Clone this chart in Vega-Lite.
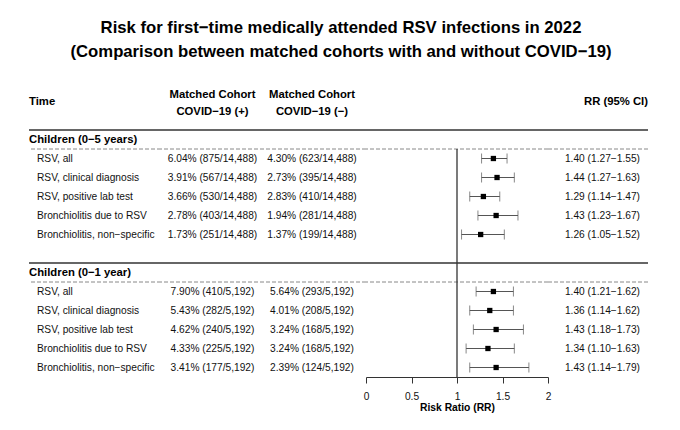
{
  "$schema": "https://vega.github.io/schema/vega-lite/v6.json",
  "padding": {"left": 28, "top": 19, "right": 0, "bottom": 0},
  "background": "white",
  "config": {"view": {"stroke": null}, "font": "Liberation Sans"},
  "title": {
    "text": ["Risk for first−time medically attended RSV infections in 2022", "(Comparison between matched cohorts with and without COVID−19)"],
    "fontSize": 16.7, "fontWeight": "bold", "font": "Liberation Sans", "lineHeight": 24,
    "anchor": "middle", "dx": 2.5, "offset": 12.5, "color": "#000"
  },
  "datasets": {
    "rows": [
      {"row": -3, "type": "header", "label": "Time", "c1": "Matched Cohort\nCOVID−19 (+)", "c2": "Matched Cohort\nCOVID−19 (−)", "rrtext": "RR (95% CI)"},
      {"row": -1, "type": "group", "label": "Children (0−5 years)"},
      {"row": 0, "type": "item", "label": "RSV, all", "c1": "6.04% (875/14,488)", "c2": "4.30% (623/14,488)", "rr": 1.40, "lo": 1.27, "hi": 1.55, "rrtext": "1.40 (1.27−1.55)"},
      {"row": 1, "type": "item", "label": "RSV, clinical diagnosis", "c1": "3.91% (567/14,488)", "c2": "2.73% (395/14,488)", "rr": 1.44, "lo": 1.27, "hi": 1.63, "rrtext": "1.44 (1.27−1.63)"},
      {"row": 2, "type": "item", "label": "RSV, positive lab test", "c1": "3.66% (530/14,488)", "c2": "2.83% (410/14,488)", "rr": 1.29, "lo": 1.14, "hi": 1.47, "rrtext": "1.29 (1.14−1.47)"},
      {"row": 3, "type": "item", "label": "Bronchiolitis due to RSV", "c1": "2.78% (403/14,488)", "c2": "1.94% (281/14,488)", "rr": 1.43, "lo": 1.23, "hi": 1.67, "rrtext": "1.43 (1.23−1.67)"},
      {"row": 4, "type": "item", "label": "Bronchiolitis, non−specific", "c1": "1.73% (251/14,488)", "c2": "1.37% (199/14,488)", "rr": 1.26, "lo": 1.05, "hi": 1.52, "rrtext": "1.26 (1.05−1.52)"},
      {"row": 6, "type": "group", "label": "Children (0−1 year)"},
      {"row": 7, "type": "item", "label": "RSV, all", "c1": "7.90% (410/5,192)", "c2": "5.64% (293/5,192)", "rr": 1.40, "lo": 1.21, "hi": 1.62, "rrtext": "1.40 (1.21−1.62)"},
      {"row": 8, "type": "item", "label": "RSV, clinical diagnosis", "c1": "5.43% (282/5,192)", "c2": "4.01% (208/5,192)", "rr": 1.36, "lo": 1.14, "hi": 1.62, "rrtext": "1.36 (1.14−1.62)"},
      {"row": 9, "type": "item", "label": "RSV, positive lab test", "c1": "4.62% (240/5,192)", "c2": "3.24% (168/5,192)", "rr": 1.43, "lo": 1.18, "hi": 1.73, "rrtext": "1.43 (1.18−1.73)"},
      {"row": 10, "type": "item", "label": "Bronchiolitis due to RSV", "c1": "4.33% (225/5,192)", "c2": "3.24% (168/5,192)", "rr": 1.34, "lo": 1.10, "hi": 1.63, "rrtext": "1.34 (1.10−1.63)"},
      {"row": 11, "type": "item", "label": "Bronchiolitis, non−specific", "c1": "3.41% (177/5,192)", "c2": "2.39% (124/5,192)", "rr": 1.43, "lo": 1.14, "hi": 1.79, "rrtext": "1.43 (1.14−1.79)"}
    ],
    "lines": [
      {"row": -1.5, "kind": "solid"},
      {"row": 5.5, "kind": "solid"},
      {"row": -0.5, "kind": "dashed"},
      {"row": 6.5, "kind": "dashed"}
    ]
  },
  "bounds": "flush",
  "spacing": 0,
  "hconcat": [
    {
      "width": 132, "height": 304,
      "layer": [
        {"data": {"name": "lines"}, "transform": [{"filter": "datum.kind === 'solid'"}], "mark": {"type": "rule", "color": "#666", "strokeWidth": 1.8}, "encoding": {"y": {"field": "row", "type": "quantitative", "scale": {"domain": [-4.5, 11.5], "reverse": true, "nice": false, "zero": false}, "axis": null}}},
        {"data": {"name": "lines"}, "transform": [{"filter": "datum.kind === 'dashed'"}], "mark": {"type": "rule", "color": "#888", "strokeWidth": 1, "strokeDash": [4, 2]}, "encoding": {"y": {"field": "row", "type": "quantitative"}}},
        {"data": {"name": "rows"}, "transform": [{"filter": "datum.type !== 'item'"}], "mark": {"type": "text", "align": "left", "baseline": "middle", "fontWeight": "bold", "fontSize": 11.3, "color": "#000"}, "encoding": {"x": {"value": 0}, "y": {"field": "row", "type": "quantitative"}, "text": {"field": "label"}}},
        {"data": {"name": "rows"}, "transform": [{"filter": "datum.type === 'item'"}], "mark": {"type": "text", "align": "left", "baseline": "middle", "fontSize": 10.2, "dx": 8, "color": "#111"}, "encoding": {"x": {"value": 0}, "y": {"field": "row", "type": "quantitative"}, "text": {"field": "label"}}}
      ]
    },
    {
      "width": 103, "height": 304,
      "layer": [
        {"data": {"name": "lines"}, "transform": [{"filter": "datum.kind === 'solid'"}], "mark": {"type": "rule", "color": "#666", "strokeWidth": 1.8}, "encoding": {"y": {"field": "row", "type": "quantitative", "scale": {"domain": [-4.5, 11.5], "reverse": true, "nice": false, "zero": false}, "axis": null}}},
        {"data": {"name": "lines"}, "transform": [{"filter": "datum.kind === 'dashed'"}], "mark": {"type": "rule", "color": "#888", "strokeWidth": 1, "strokeDash": [4, 2]}, "encoding": {"y": {"field": "row", "type": "quantitative"}}},
        {"data": {"name": "rows"}, "transform": [{"filter": "datum.type === 'header'"}], "mark": {"type": "text", "align": "center", "baseline": "middle", "fontWeight": "bold", "fontSize": 11.3, "lineBreak": "\n", "lineHeight": 17, "dy": -7, "color": "#000"}, "encoding": {"y": {"field": "row", "type": "quantitative"}, "text": {"field": "c1"}}},
        {"data": {"name": "rows"}, "transform": [{"filter": "datum.type === 'item'"}], "mark": {"type": "text", "align": "center", "baseline": "middle", "fontSize": 10.2, "color": "#111"}, "encoding": {"y": {"field": "row", "type": "quantitative"}, "text": {"field": "c1"}}}
      ]
    },
    {
      "width": 102, "height": 304,
      "layer": [
        {"data": {"name": "lines"}, "transform": [{"filter": "datum.kind === 'solid'"}], "mark": {"type": "rule", "color": "#666", "strokeWidth": 1.8}, "encoding": {"y": {"field": "row", "type": "quantitative", "scale": {"domain": [-4.5, 11.5], "reverse": true, "nice": false, "zero": false}, "axis": null}}},
        {"data": {"name": "lines"}, "transform": [{"filter": "datum.kind === 'dashed'"}], "mark": {"type": "rule", "color": "#888", "strokeWidth": 1, "strokeDash": [4, 2]}, "encoding": {"y": {"field": "row", "type": "quantitative"}}},
        {"data": {"name": "rows"}, "transform": [{"filter": "datum.type === 'header'"}], "mark": {"type": "text", "align": "center", "baseline": "middle", "fontWeight": "bold", "fontSize": 11.3, "lineBreak": "\n", "lineHeight": 17, "dx": -3, "dy": -7, "color": "#000"}, "encoding": {"y": {"field": "row", "type": "quantitative"}, "text": {"field": "c2"}}},
        {"data": {"name": "rows"}, "transform": [{"filter": "datum.type === 'item'"}], "mark": {"type": "text", "align": "center", "baseline": "middle", "fontSize": 10.2, "dx": -3, "color": "#111"}, "encoding": {"y": {"field": "row", "type": "quantitative"}, "text": {"field": "c2"}}}
      ]
    },
    {
      "width": 182, "height": 304,
      "layer": [
        {"data": {"name": "lines"}, "transform": [{"filter": "datum.kind === 'solid'"}], "mark": {"type": "rule", "color": "#666", "strokeWidth": 1.8}, "encoding": {"y": {"field": "row", "type": "quantitative", "scale": {"domain": [-4.5, 11.5], "reverse": true, "nice": false, "zero": false}, "axis": null}}},
        {"data": {"name": "lines"}, "transform": [{"filter": "datum.kind === 'dashed'"}], "mark": {"type": "rule", "color": "#888", "strokeWidth": 1, "strokeDash": [4, 2]}, "encoding": {"y": {"field": "row", "type": "quantitative"}}},
        {"data": {"name": "rows"}, "transform": [{"filter": "datum.type === 'item'"}], "mark": {"type": "rule", "color": "#555", "strokeWidth": 1},
         "encoding": {
           "x": {"field": "lo", "type": "quantitative", "scale": {"domain": [0, 2], "nice": false, "zero": false},
                 "axis": {"values": [0, 0.5, 1, 1.5, 2], "format": "~g", "title": "Risk Ratio (RR)", "grid": false, "domainColor": "#333", "domainWidth": 1, "tickColor": "#333", "tickSize": 6, "tickWidth": 1, "labelFont": "Liberation Sans", "labelFontSize": 10.2, "labelColor": "#111", "labelPadding": 8, "labelFlush": false, "titleFont": "Liberation Sans", "titleFontSize": 10.3, "titleFontWeight": "bold", "titleColor": "#000", "titlePadding": 1}},
           "x2": {"field": "hi"},
           "y": {"field": "row", "type": "quantitative"}
         }},
        {"data": {"name": "rows"}, "transform": [{"filter": "datum.type === 'item'"}], "mark": {"type": "tick", "orient": "vertical", "color": "#555", "thickness": 1, "size": 10},
         "encoding": {"x": {"field": "lo", "type": "quantitative"}, "y": {"field": "row", "type": "quantitative"}}},
        {"data": {"name": "rows"}, "transform": [{"filter": "datum.type === 'item'"}], "mark": {"type": "tick", "orient": "vertical", "color": "#555", "thickness": 1, "size": 10},
         "encoding": {"x": {"field": "hi", "type": "quantitative"}, "y": {"field": "row", "type": "quantitative"}}},
        {"data": {"name": "rows"}, "transform": [{"filter": "datum.type === 'item'"}], "mark": {"type": "point", "shape": "square", "filled": true, "color": "#000", "size": 28, "opacity": 1},
         "encoding": {"x": {"field": "rr", "type": "quantitative"}, "y": {"field": "row", "type": "quantitative"}}},
        {"data": {"name": "rows"}, "transform": [{"filter": "datum.type === 'header'"}], "mark": {"type": "rule", "color": "#333", "strokeWidth": 1.3},
         "encoding": {"x": {"datum": 1}, "y": {"datum": -0.5}, "y2": {"datum": 11.5}}}
      ]
    },
    {
      "width": 100, "height": 304,
      "layer": [
        {"data": {"name": "lines"}, "transform": [{"filter": "datum.kind === 'solid'"}], "mark": {"type": "rule", "color": "#666", "strokeWidth": 1.8}, "encoding": {"y": {"field": "row", "type": "quantitative", "scale": {"domain": [-4.5, 11.5], "reverse": true, "nice": false, "zero": false}, "axis": null}}},
        {"data": {"name": "lines"}, "transform": [{"filter": "datum.kind === 'dashed'"}], "mark": {"type": "rule", "color": "#888", "strokeWidth": 1, "strokeDash": [4, 2]}, "encoding": {"y": {"field": "row", "type": "quantitative"}}},
        {"data": {"name": "rows"}, "transform": [{"filter": "datum.type === 'header'"}], "mark": {"type": "text", "align": "right", "baseline": "middle", "fontWeight": "bold", "fontSize": 11.3, "color": "#000"}, "encoding": {"x": {"value": "width"}, "y": {"field": "row", "type": "quantitative"}, "text": {"field": "rrtext"}}},
        {"data": {"name": "rows"}, "transform": [{"filter": "datum.type === 'item'"}], "mark": {"type": "text", "align": "right", "baseline": "middle", "fontSize": 10.2, "dx": -8, "color": "#111"}, "encoding": {"x": {"value": "width"}, "y": {"field": "row", "type": "quantitative"}, "text": {"field": "rrtext"}}}
      ]
    }
  ]
}
